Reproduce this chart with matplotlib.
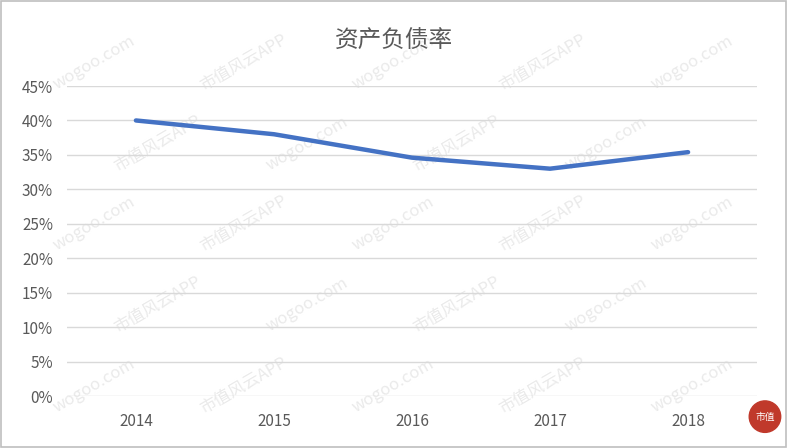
import matplotlib

matplotlib.use("Agg")
import matplotlib.pyplot as plt
from matplotlib.ticker import PercentFormatter, MultipleLocator
from matplotlib.patches import Rectangle, Ellipse

plt.rcParams["font.family"] = ["Noto Sans CJK SC", "DejaVu Sans"]

years = ["2014", "2015", "2016", "2017", "2018"]
debt_ratio = [40.0, 38.0, 34.6, 33.0, 35.4]

TEXT = "#595959"
GRID = "#d9d9d9"
LINE = "#4472c4"

fig = plt.figure(figsize=(7.87, 4.48), dpi=100)
ax = fig.add_axes([0.085, 0.116, 0.877, 0.692])
ax.set_zorder(1)

# faint watermark, kept inside the frame and behind the chart
for row in range(5):
    for col in range(5):
        x = 0.12 + col * 0.19 + (row % 2) * 0.08
        y = 0.14 + row * 0.18
        if x > 0.9:
            continue
        label = "wogoo.com" if (row + col) % 2 == 0 else "市值风云APP"
        fig.text(x, y, label, fontsize=12, color="#eaeaea", rotation=30,
                 ha="center", va="center", zorder=-1)

xs = range(len(years))
ax.plot(xs, debt_ratio, color=LINE, lw=3.2, solid_capstyle="round", zorder=3)

ax.set_xlim(-0.5, len(years) - 0.5)
ax.set_ylim(0, 45)
ax.yaxis.set_major_locator(MultipleLocator(5))
ax.yaxis.set_major_formatter(PercentFormatter(decimals=0))
ax.set_xticks(list(xs))
ax.set_xticklabels(years)
ax.grid(axis="y", color=GRID, lw=1)
ax.set_axisbelow(True)
ax.patch.set_alpha(0)
for s in ax.spines.values():
    s.set_visible(False)
ax.tick_params(length=0, colors=TEXT, labelsize=11)
ax.tick_params(axis="x", pad=12)
ax.tick_params(axis="y", pad=10)

fig.text(0.5, 0.908, "资产负债率", ha="center", va="center", fontsize=17, color=TEXT)

# logo bottom-right
fig.patches.append(Ellipse((0.972, 0.07), 0.04, 0.04 * 787 / 448,
                           transform=fig.transFigure, color="#c0392b", zorder=5))
fig.text(0.972, 0.07, "市值", ha="center", va="center", fontsize=7,
         color="white", zorder=6)

fig.patches.append(Rectangle((0.001, 0.002), 0.998, 0.996, transform=fig.transFigure,
                             fill=False, edgecolor="#bfbfbf", lw=1.2))

fig.savefig("out.png", dpi=100)
